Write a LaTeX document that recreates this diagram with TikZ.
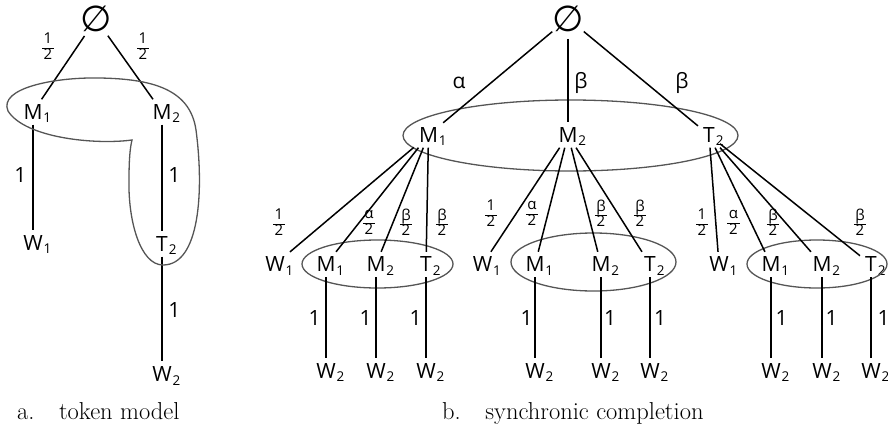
\documentclass[tikz,border=0pt]{standalone}
\usepackage{fontspec}
\newfontfamily\labfont{Open Sans}
\newfontfamily\symfont{DejaVu Sans}
\newcommand{\lsub}[1]{\rlap{\smash{\raisebox{-3.5pt}{\fontsize{13.5}{13.5}\selectfont\kern1pt #1}}}}
\newcommand{\fr}[2]{{\fontsize{15}{15}\selectfont\renewcommand{\arraystretch}{0.85}\setlength{\arrayrulewidth}{0.8pt}\begin{tabular}{@{\kern1.5pt}c@{\kern1.5pt}}#1\\\hline #2\end{tabular}}}
\definecolor{ellgray}{RGB}{85,85,85}
\tikzset{
  lbl/.style={font=\labfont\fontsize{21}{21}\selectfont, inner sep=5pt, rectangle},
  elab/.style={font=\labfont\fontsize{21}{21}\selectfont, inner sep=0pt},
  flab/.style={font=\labfont, inner sep=0pt},
  root/.style={font=\symfont\fontsize{36}{36}\selectfont, circle, inner sep=0pt},
  edge/.style={line width=1.5pt, black},
  ell/.style={line width=1.3pt, ellgray},
  capt/.style={font=\fontsize{24.5}{26}\selectfont, inner sep=0pt, anchor=base west}
}
\begin{document}
\begin{tikzpicture}[x=1pt,y=-1pt]
\useasboundingbox (0,0) rectangle (888,431);
% ---------------- panel a ----------------
\node[root] (e1) at (96,19) {∅};
\node[lbl] (aM1) at (33,112) {M\lsub{1}};
\node[lbl] (aM2) at (162,112) {M\lsub{2}};
\node[lbl] (aW1) at (33,243) {W\lsub{1}};
\node[lbl] (aT2) at (162,244) {T\lsub{2}};
\node[lbl] (aW2) at (162,374) {W\lsub{2}};
\draw[edge] (e1) -- (aM1);
\draw[edge] (e1) -- (aM2);
\draw[edge] (aM1) -- (aW1);
\draw[edge] (aM2) -- (aT2);
\draw[edge] (aT2) -- (aW2);
\node[flab] (la1) at (48,48) {\fr{1}{2}};
\node[flab] (la2) at (143,48) {\fr{1}{2}};
\node[elab] (la3) at (20.5,175) {1};
\node[elab] (la4) at (174.5,175) {1};
\node[elab] (la5) at (174.5,309.5) {1};
\draw[ell] (132,140) .. controls (95,145) and (25,138) .. (8,111)
  .. controls (-2,88) and (55,77) .. (100,78)
  .. controls (150,79) and (190,88) .. (196,130)
  .. controls (204,190) and (200,265) .. (163,265)
  .. controls (140,265) and (128,220) .. (129,180)
  .. controls (129,160) and (130,148) .. (132,140) -- cycle;
\node[capt] (capa) at (17,419) {a.\quad token model};
% ---------------- panel b ----------------
\node[root] (e2) at (568,18.5) {∅};
\node[lbl] (bM1) at (428.5,135) {M\lsub{1}};
\node[lbl] (bM2) at (568,135) {M\lsub{2}};
\node[lbl] (bT2) at (709,135) {T\lsub{2}};
\draw[ell] (570.5,135.5) ellipse [x radius=167.5, y radius=35.5];
\draw[edge] (e2) -- (bM1);
\draw[edge] (e2) -- (bM2);
\draw[edge] (e2) -- (bT2);
\node[elab] (lal) at (459,83) {α};
\node[elab] (lbe1) at (581,83) {β};
\node[elab] (lbe2) at (682,83) {β};
% group 1
\node[lbl] (g1W1) at (275,264.5) {W\lsub{1}};
\node[lbl] (g1M1) at (326,264.5) {M\lsub{1}};
\node[lbl] (g1M2) at (376,264.5) {M\lsub{2}};
\node[lbl] (g1T2) at (426,264.5) {T\lsub{2}};
\node[lbl] (g1A) at (326,370.5) {W\lsub{2}};
\node[lbl] (g1B) at (376,370.5) {W\lsub{2}};
\node[lbl] (g1C) at (426,370.5) {W\lsub{2}};
\draw[ell] (377.5,264) ellipse [x radius=75.5, y radius=24];
\foreach \t in {g1W1,g1M1,g1M2,g1T2} \draw[edge] (bM1) -- (\t);
\draw[edge] (g1M1) -- (g1A);
\draw[edge] (g1M2) -- (g1B);
\draw[edge] (g1T2) -- (g1C);
\node[flab] (f11) at (279,224) {\fr{1}{2}};
\node[flab] (f12) at (369,224) {\fr{α}{2}};
\node[flab] (f13) at (406,224) {\fr{β}{2}};
\node[flab] (f14) at (442,224) {\fr{β}{2}};
\node[elab] (o11) at (314.5,317.5) {1};
\node[elab] (o12) at (365.5,317.5) {1};
\node[elab] (o13) at (415.5,317.5) {1};
% group 2
\node[lbl] (g2W1) at (482.5,264.5) {W\lsub{1}};
\node[lbl] (g2M1) at (535,264.5) {M\lsub{1}};
\node[lbl] (g2M2) at (601,264.5) {M\lsub{2}};
\node[lbl] (g2T2) at (650,264.5) {T\lsub{2}};
\node[lbl] (g2A) at (535,370.5) {W\lsub{2}};
\node[lbl] (g2B) at (601,370.5) {W\lsub{2}};
\node[lbl] (g2C) at (650,370.5) {W\lsub{2}};
\draw[ell] (593.5,262) ellipse [x radius=82.5, y radius=29];
\foreach \t in {g2W1,g2M1,g2M2,g2T2} \draw[edge] (bM2) -- (\t);
\draw[edge] (g2M1) -- (g2A);
\draw[edge] (g2M2) -- (g2B);
\draw[edge] (g2T2) -- (g2C);
\node[flab] (f21) at (491,215) {\fr{1}{2}};
\node[flab] (f22) at (532,215) {\fr{α}{2}};
\node[flab] (f23) at (601,215) {\fr{β}{2}};
\node[flab] (f24) at (640,215) {\fr{β}{2}};
\node[elab] (o21) at (526.5,317.5) {1};
\node[elab] (o22) at (610,317.5) {1};
\node[elab] (o23) at (660,317.5) {1};
% group 3
\node[lbl] (g3W1) at (719,264.5) {W\lsub{1}};
\node[lbl] (g3M1) at (771,264.5) {M\lsub{1}};
\node[lbl] (g3M2) at (822,264.5) {M\lsub{2}};
\node[lbl] (g3T2) at (871,264.5) {T\lsub{2}};
\node[lbl] (g3A) at (771,370.5) {W\lsub{2}};
\node[lbl] (g3B) at (822,370.5) {W\lsub{2}};
\node[lbl] (g3C) at (871,370.5) {W\lsub{2}};
\draw[ell] (817,264) ellipse [x radius=70, y radius=24];
\foreach \t in {g3W1,g3M1,g3M2,g3T2} \draw[edge] (bT2) -- (\t);
\draw[edge] (g3M1) -- (g3A);
\draw[edge] (g3M2) -- (g3B);
\draw[edge] (g3T2) -- (g3C);
\node[flab] (f31) at (702,224) {\fr{1}{2}};
\node[flab] (f32) at (733.5,224) {\fr{α}{2}};
\node[flab] (f33) at (773,224) {\fr{β}{2}};
\node[flab] (f34) at (860,224) {\fr{β}{2}};
\node[elab] (o31) at (781.5,317.5) {1};
\node[elab] (o32) at (831.5,317.5) {1};
\node[elab] (o33) at (883.5,317.5) {1};
\node[capt] (capb) at (442,419) {b.\quad synchronic completion};
\end{tikzpicture}
\end{document}
